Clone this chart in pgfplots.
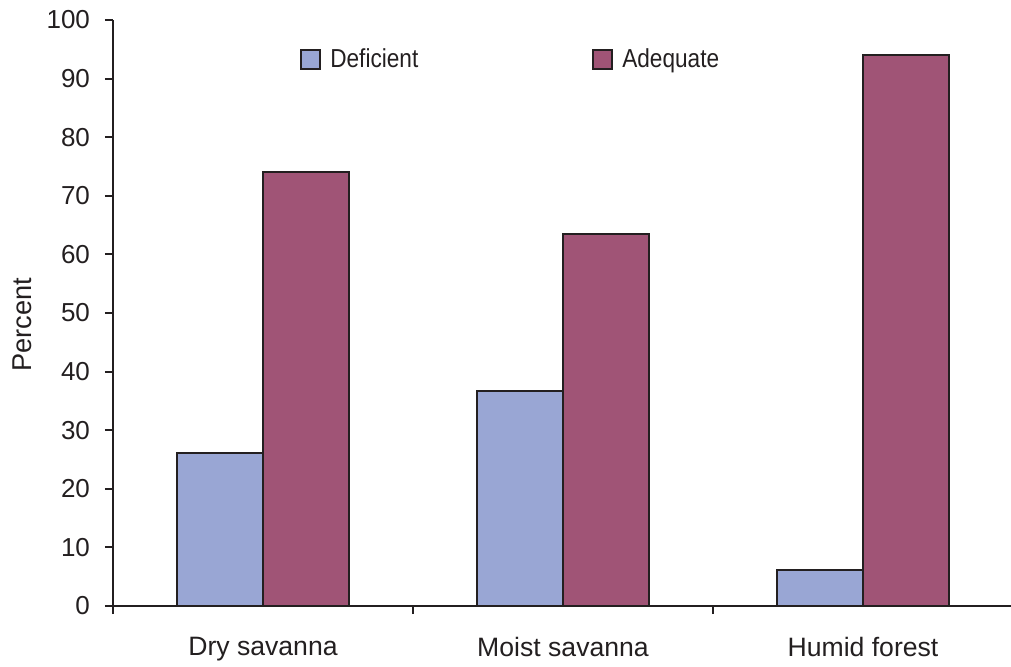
\documentclass[border=0pt]{standalone}
\usepackage{pgfplots}
\pgfplotsset{compat=1.18}
\usepackage{fontspec}
\setmainfont{Liberation Sans}
\definecolor{defc}{RGB}{153,166,212}
\definecolor{adqc}{RGB}{160,84,118}
\definecolor{axc}{RGB}{35,31,32}
\begin{document}
\begin{tikzpicture}
\begin{axis}[
  scale only axis,
  width=450pt, height=293pt,
  xmin=-0.5, xmax=2.5,
  ymin=0, ymax=100,
  ybar=0pt, bar width=43pt,
  axis lines*=left,
  axis line style={axc, line width=1pt},
  xtick={0,1,2},
  xticklabels={Dry savanna, Moist savanna, Humid forest},
  minor xtick={-0.5,0.5,1.5,2.5},
  ytick={0,10,...,100},
  tick align=outside,
  major tick length=4pt,
  minor tick length=4pt,
  every tick/.style={axc, line width=1pt},
  major x tick style={draw=none},
  font=\fontsize{13}{15}\selectfont,
  /pgf/number format/assume math mode=true,
  ticklabel style={font=\fontsize{13}{15}\selectfont, text=axc},
  xticklabel style={yshift=-8pt, font=\fontsize{13.3}{15}\selectfont},
  yticklabel style={xshift=-4pt},
  ylabel={Percent},
  ylabel style={at={(axis description cs:0,0.5)}, anchor=center, yshift=45.5pt, xshift=-6pt, font=\fontsize{13.6}{15}\selectfont, text=axc},
  legend style={at={(0.201,0.933)}, anchor=west, draw=none, fill=none,
    legend columns=2, font=\fontsize{13}{15}\selectfont, text=axc,
    /tikz/every even column/.append style={column sep=85pt}},
  legend image code/.code={\draw[#1, line width=1pt] (0pt,-4.75pt) rectangle (9.5pt,4.75pt); \path (12pt,0pt);},
]
\addplot[fill=defc, draw=axc, line width=1pt] coordinates {(0,26.1) (1,36.7) (2,6.1)};
\addplot[fill=adqc, draw=axc, line width=1pt] coordinates {(0,74.0) (1,63.5) (2,94.0)};
\legend{\scalebox{0.87}[1]{Deficient}, \scalebox{0.87}[1]{Adequate}}
\end{axis}
\pgfresetboundingbox
\path[use as bounding box] (-56.5pt,-30pt) rectangle (449pt,303pt);
\end{tikzpicture}
\end{document}
